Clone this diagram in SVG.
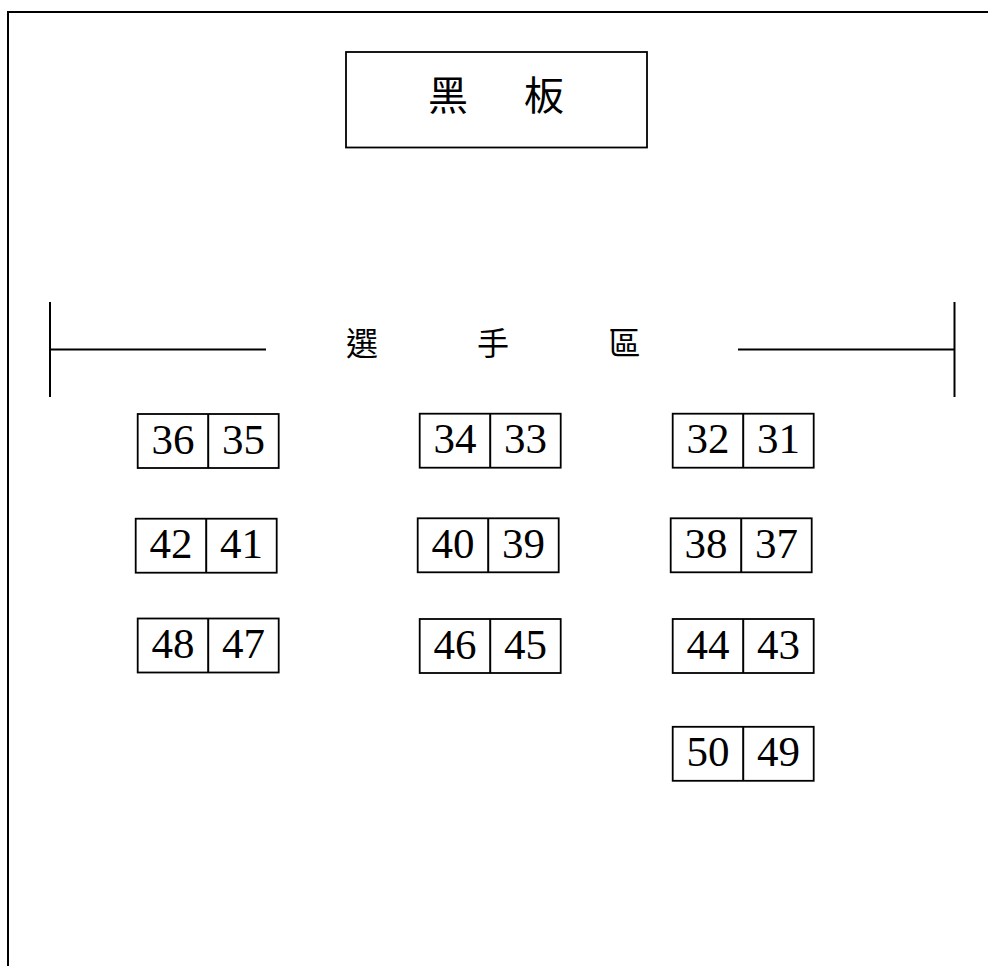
<svg xmlns="http://www.w3.org/2000/svg" width="988" height="966" viewBox="0 0 988 966">
<style>
.ln{stroke:#000;stroke-width:2;fill:none}
.bx{stroke:#000;stroke-width:1.8;fill:#fff}
.num{font-family:"Liberation Serif","Times New Roman",serif;font-size:43px;fill:#000;text-anchor:middle}
.cjk{font-family:"Noto Sans CJK TC","Noto Sans CJK SC",sans-serif;fill:#000;text-anchor:middle}
</style>
<rect width="988" height="966" fill="#fff"/>
<g id="frame">
<path class="ln" d="M8 966 V12 H988"/>
</g>
<g id="blackboard">
<rect class="bx" x="346" y="52" width="301" height="95.5"/>
<text class="cjk" x="448" y="110" font-size="40">黑</text>
<text class="cjk" x="544" y="110" font-size="40">板</text>
</g>
<g id="players-area">
<line class="ln" x1="50" y1="302" x2="50" y2="397"/>
<line class="ln" x1="50" y1="349.5" x2="266" y2="349.5"/>
<line class="ln" x1="738" y1="349.5" x2="954.5" y2="349.5"/>
<line class="ln" x1="954.5" y1="302" x2="954.5" y2="397"/>
<text class="cjk" x="362" y="355" font-size="32">選</text>
<text class="cjk" x="493" y="355" font-size="32">手</text>
<text class="cjk" x="624.5" y="355" font-size="32">區</text>
</g>
<g id="d36-35" transform="translate(137.7,414)">
<rect class="bx" width="141" height="54"/><line class="ln" x1="70.5" y1="0" x2="70.5" y2="54" stroke-width="1.8"/>
<text class="num" x="35.25" y="39.5">36</text><text class="num" x="105.75" y="39.5">35</text>
</g>
<g id="d34-33" transform="translate(419.7,413.7)">
<rect class="bx" width="141" height="54"/><line class="ln" x1="70.5" y1="0" x2="70.5" y2="54" stroke-width="1.8"/>
<text class="num" x="35.25" y="39.5">34</text><text class="num" x="105.75" y="39.5">33</text>
</g>
<g id="d32-31" transform="translate(672.7,413.7)">
<rect class="bx" width="141" height="54"/><line class="ln" x1="70.5" y1="0" x2="70.5" y2="54" stroke-width="1.8"/>
<text class="num" x="35.25" y="39.5">32</text><text class="num" x="105.75" y="39.5">31</text>
</g>
<g id="d42-41" transform="translate(135.7,518.7)">
<rect class="bx" width="141" height="54"/><line class="ln" x1="70.5" y1="0" x2="70.5" y2="54" stroke-width="1.8"/>
<text class="num" x="35.25" y="39.5">42</text><text class="num" x="105.75" y="39.5">41</text>
</g>
<g id="d40-39" transform="translate(417.7,518.3)">
<rect class="bx" width="141" height="54"/><line class="ln" x1="70.5" y1="0" x2="70.5" y2="54" stroke-width="1.8"/>
<text class="num" x="35.25" y="39.5">40</text><text class="num" x="105.75" y="39.5">39</text>
</g>
<g id="d38-37" transform="translate(670.7,518.3)">
<rect class="bx" width="141" height="54"/><line class="ln" x1="70.5" y1="0" x2="70.5" y2="54" stroke-width="1.8"/>
<text class="num" x="35.25" y="39.5">38</text><text class="num" x="105.75" y="39.5">37</text>
</g>
<g id="d48-47" transform="translate(137.7,618.5)">
<rect class="bx" width="141" height="54"/><line class="ln" x1="70.5" y1="0" x2="70.5" y2="54" stroke-width="1.8"/>
<text class="num" x="35.25" y="39.5">48</text><text class="num" x="105.75" y="39.5">47</text>
</g>
<g id="d46-45" transform="translate(419.7,619)">
<rect class="bx" width="141" height="54"/><line class="ln" x1="70.5" y1="0" x2="70.5" y2="54" stroke-width="1.8"/>
<text class="num" x="35.25" y="39.5">46</text><text class="num" x="105.75" y="39.5">45</text>
</g>
<g id="d44-43" transform="translate(672.7,619)">
<rect class="bx" width="141" height="54"/><line class="ln" x1="70.5" y1="0" x2="70.5" y2="54" stroke-width="1.8"/>
<text class="num" x="35.25" y="39.5">44</text><text class="num" x="105.75" y="39.5">43</text>
</g>
<g id="d50-49" transform="translate(672.7,726.8)">
<rect class="bx" width="141" height="54"/><line class="ln" x1="70.5" y1="0" x2="70.5" y2="54" stroke-width="1.8"/>
<text class="num" x="35.25" y="39.5">50</text><text class="num" x="105.75" y="39.5">49</text>
</g>
</svg>
